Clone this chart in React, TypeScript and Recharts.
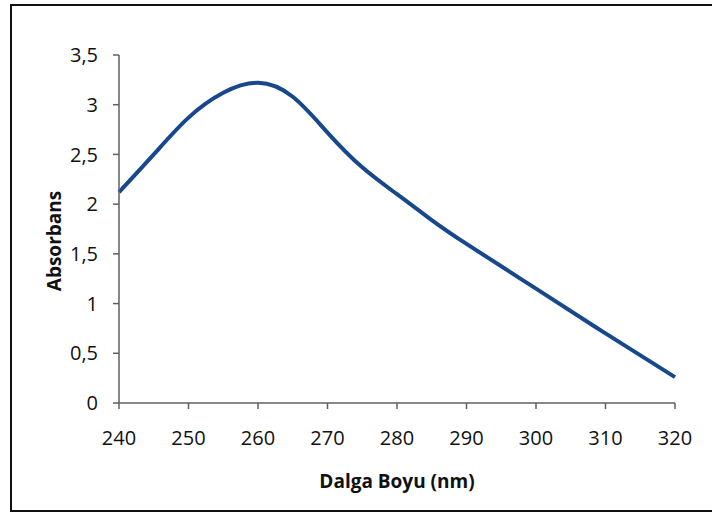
import React from "react";
import { LineChart, Line, XAxis, YAxis } from "recharts";

const wavelengths = [240, 245, 250, 255, 260, 265, 270, 275, 280, 285, 290, 300, 310, 320];
const absorbance = [2.12, 2.5, 2.87, 3.12, 3.22, 3.08, 2.72, 2.37, 2.1, 1.84, 1.6, 1.15, 0.7, 0.26];
const xTicks = [240, 250, 260, 270, 280, 290, 300, 310, 320];
const yTicks = [0, 0.5, 1, 1.5, 2, 2.5, 3, 3.5];
const xTitle = "Dalga Boyu (nm)";
const yTitle = "Absorbans";

const data = wavelengths.map((w, i) => ({ w, a: absorbance[i] }));

const FONT = "'Open Sans', 'DejaVu Sans', sans-serif";
const AXIS = "#5f5f5f";

export default function App() {
  return (
    <div style={{ position: "absolute", left: 0, top: 0, width: 712, height: 512, overflow: "hidden", background: "#fff" }}>
      <div
        style={{
          position: "absolute",
          left: 10,
          top: 4,
          width: 720,
          height: 504,
          borderLeft: "2px solid #111",
          borderTop: "2px solid #111",
          borderBottom: "2px solid #111",
        }}
      />
      <div style={{ position: "absolute", left: 0, top: 0 }}>
        <LineChart width={712} height={512} data={data} margin={{ top: 55, right: 37, bottom: 29, left: 59 }}>
          <XAxis
            dataKey="w"
            type="number"
            domain={[240, 320]}
            ticks={xTicks}
            interval={0}
            height={80}
            stroke={AXIS}
            strokeWidth={1.5}
            tickSize={6}
            tickMargin={22}
            tick={{ fill: "#111", fontSize: 20, fontFamily: FONT }}
            label={{
              content: (p: any) => (
                <text
                  x={p.viewBox.x + p.viewBox.width / 2}
                  y={488}
                  textAnchor="middle"
                  fontFamily={FONT}
                  fontWeight="bold"
                  fontSize={19}
                  fill="#111"
                >
                  {xTitle}
                </text>
              ),
            }}
          />
          <YAxis
            type="number"
            domain={[0, 3.5]}
            ticks={yTicks}
            interval={0}
            width={60}
            stroke={AXIS}
            strokeWidth={1.5}
            tickSize={6}
            tickMargin={15}
            tickFormatter={(v: number) => String(v).replace(".", ",")}
            tick={{ fill: "#111", fontSize: 20, fontFamily: FONT }}
            label={{
              content: () => (
                <text
                  x={54}
                  y={241}
                  transform="rotate(-90, 54, 241)"
                  textAnchor="middle"
                  dominantBaseline="central"
                  fontFamily={FONT}
                  fontWeight="bold"
                  fontSize={19}
                  fill="#111"
                >
                  {yTitle}
                </text>
              ),
            }}
          />
          <Line
            type="natural"
            dataKey="a"
            stroke="#17478c"
            strokeWidth={4}
            dot={false}
            isAnimationActive={false}
          />
        </LineChart>
      </div>
    </div>
  );
}
